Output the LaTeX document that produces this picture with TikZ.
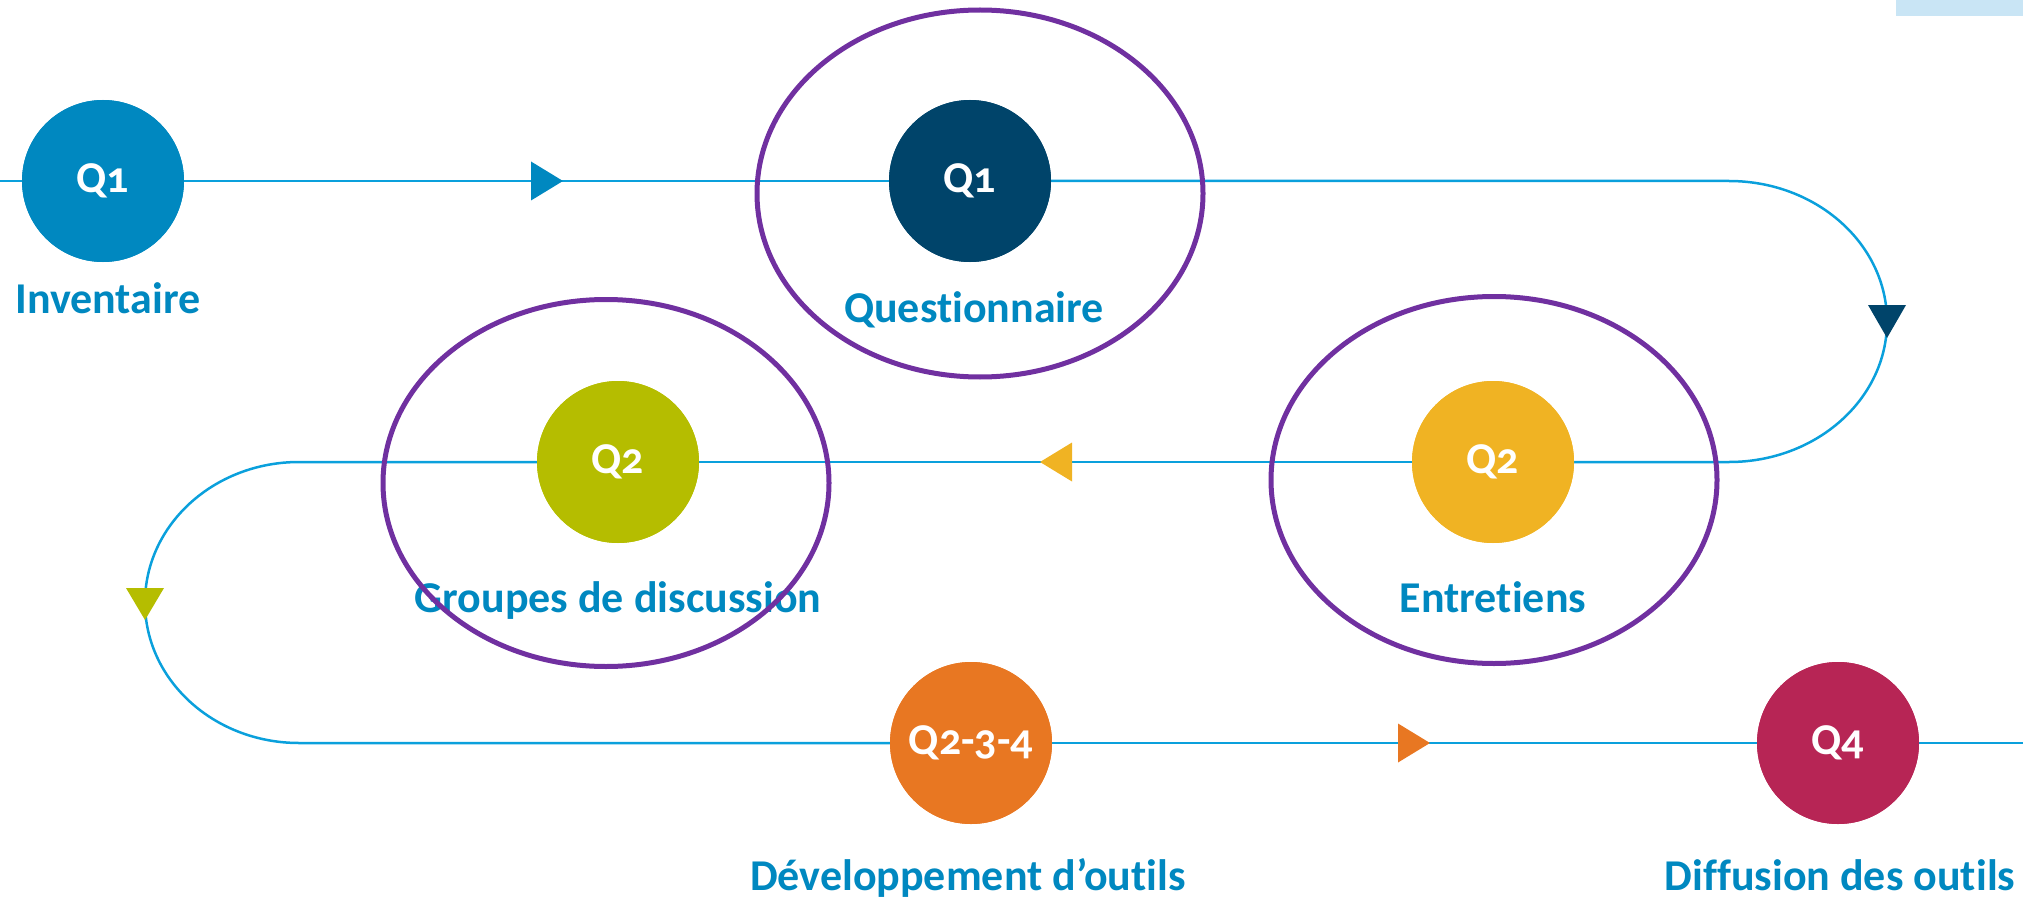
\documentclass[tikz,border=0pt]{standalone}
\usepackage{fontspec}
\setmainfont{Carlito}[Numbers=OldStyle, Ligatures=NoCommon]
\usetikzlibrary{shapes.geometric}
\definecolor{lineblue}{HTML}{0AA0DC}
\definecolor{lblblue}{HTML}{0088C0}
\definecolor{qnavy}{HTML}{00446A}
\definecolor{qgreen}{HTML}{B5BD00}
\definecolor{qyellow}{HTML}{F0B323}
\definecolor{qorange}{HTML}{E87722}
\definecolor{qmagenta}{HTML}{B72555}
\definecolor{ringpurple}{HTML}{7030A0}
\definecolor{barblue}{HTML}{C9E5F5}
\tikzset{
  qnode/.style={circle, minimum size=162pt, inner sep=0pt, text=white,
    font=\bfseries\fontsize{44}{44}\selectfont},
  lbl/.style={anchor=base, text=lblblue, inner sep=0pt,
    font=\bfseries\fontsize{44}{44}\selectfont},
  flow/.style={draw=lineblue, line width=2.5pt},
  ring/.style={draw=ringpurple, line width=5pt, ellipse, inner sep=0pt,
    minimum width=446pt, minimum height=367pt},
}
\begin{document}
\begin{tikzpicture}[x=1pt,y=-1pt]
\useasboundingbox (0,0) rectangle (2023,904);
\fill[barblue] (1896,0) rectangle (2023,16);

% stage nodes
\node[qnode, fill=lblblue]  (inv) at (103,181) {Q1};
\node[qnode, fill=qnavy]    (que) at (970,181) {Q1};
\node[qnode, fill=qgreen]   (grp) at (618,462) {Q2};
\node[qnode, fill=qyellow]  (ent) at (1493,462) {Q2};
\node[qnode, fill=qorange]  (dev) at (971,743) {Q2-3-4};
\node[qnode, fill=qmagenta] (dif) at (1838,743) {Q4};

% coordinates for the path
\coordinate (start) at (0,181);
\coordinate (tr) at (1729,181);
\coordinate (ml) at (299,462);
\coordinate (stop) at (2023,743);

% connectors
\draw[flow] (start) -- (inv);
\draw[flow] (inv) -- (que);
\draw[flow] (que) -- (tr) arc[start angle=-90, end angle=90, x radius=158, y radius=140.5] -- (ent);
\draw[flow] (ent) -- (grp);
\draw[flow] (grp) -- (ml) arc[start angle=-90, end angle=-270, x radius=154, y radius=140.5] -- (dev);
\draw[flow] (dev) -- (dif);
\draw[flow] (dif) -- (stop);

% redraw nodes on top of lines
\node[qnode, fill=lblblue]  at (inv) {Q1};
\node[qnode, fill=qnavy]    at (que) {Q1};
\node[qnode, fill=qgreen]   at (grp) {Q2};
\node[qnode, fill=qyellow]  at (ent) {Q2};
\node[qnode, fill=qorange]  at (dev) {Q2-3-4};
\node[qnode, fill=qmagenta] at (dif) {Q4};

% arrowheads
\fill[lblblue]  (531,161.5) -- (563,181) -- (531,200.5) -- cycle;
\fill[qnavy]    (1868,305) -- (1887,338) -- (1906,305) -- cycle;
\fill[qyellow]  (1072,442.5) -- (1040,462) -- (1072,481.5) -- cycle;
\fill[qgreen]   (126,588) -- (145,620) -- (164,588) -- cycle;
\fill[qorange]  (1398,723.5) -- (1430,743) -- (1398,762.5) -- cycle;

% labels
\node[lbl] (linv) at (108,313) {Inventaire};
\node[lbl] (lque) at (974,322) {Questionnaire};
\node[lbl] (lgrp) at (618,612) {Groupes de discussion};
\node[lbl] (lent) at (1493,612) {Entretiens};
\node[lbl] (ldev) at (968,890) {Développement d’outils};
\node[lbl] (ldif) at (1840,890) {Diffusion des outils};

% rings
\node[ring] (rque) at (980,193.5) {};
\node[ring] (rgrp) at (606,483) {};
\node[ring] (rent) at (1494,480) {};
\end{tikzpicture}
\end{document}
